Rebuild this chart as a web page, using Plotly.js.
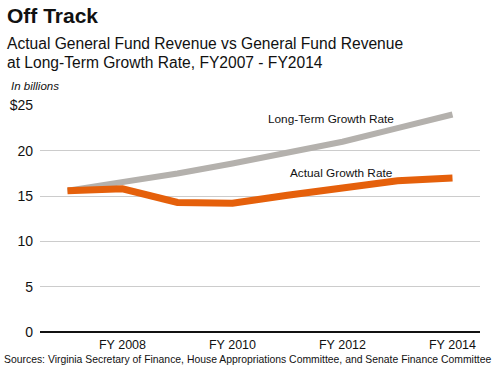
<!DOCTYPE html>
<html><head><meta charset="utf-8">
<script src="https://cdn.plot.ly/plotly-3.0.1.min.js"></script>
<style>html,body{margin:0;padding:0;background:#fff}#chart{width:500px;height:369px}</style>
</head><body><div id="chart"></div>
<script>
const years = [2007, 2008, 2009, 2010, 2011, 2012, 2013, 2014];
const longTerm = [15.6, 16.5, 17.5, 18.6, 19.8, 21.0, 22.5, 24.0];
const actual = [15.6, 15.8, 14.3, 14.2, 15.1, 15.9, 16.7, 17.0];
const xTickVals = [2008, 2010, 2012, 2014];
const xTickText = ['FY 2008', 'FY 2010', 'FY 2012', 'FY 2014'];
const yTickVals = [0, 5, 10, 15, 20, 25];
const yTickText = ['0', '5', '10', '15', '20', '$25'];

const W = 500, H = 369, L = 40, R = 20, T = 105, B = 37;
const pw = W - L - R, ph = H - T - B;
const px = x => (x - L) / pw;
const py = y => (H - B - y) / ph;
const font = 'Liberation Sans, Arial, sans-serif';

const traces = [
  {x: years, y: longTerm, mode: 'lines', line: {color: '#b4b1ad', width: 6}, hoverinfo: 'skip'},
  {x: years, y: actual, mode: 'lines', line: {color: '#e5600b', width: 7}, hoverinfo: 'skip'}
];
const ann = (x, y, text, size) => ({xref: 'paper', yref: 'paper', x: px(x), y: py(y), text, showarrow: false, xanchor: 'left', yanchor: 'middle', font: {family: font, size, color: '#111'}});
const layout = {
  width: W, height: H,
  margin: {l: L, r: R, t: T, b: B},
  paper_bgcolor: '#fff', plot_bgcolor: '#fff',
  showlegend: false,
  xaxis: {range: [2006.5, 2014.5], tickvals: xTickVals, ticktext: xTickText, showgrid: false, zeroline: false, showline: false, ticks: '', ticklabelstandoff: 3, tickfont: {family: font, size: 12.5, color: '#111'}, fixedrange: true},
  yaxis: {range: [0, 25.05], tickvals: yTickVals, ticktext: yTickText, showgrid: true, gridcolor: '#cccccc', gridwidth: 1, zeroline: true, zerolinecolor: '#111', zerolinewidth: 2, ticks: '', ticklabelstandoff: 6, tickfont: {family: font, size: 14, color: '#111'}, fixedrange: true},
  annotations: [
    ann(5, 15, '<b>Off Track</b>', 21),
    ann(5, 43, 'Actual General Fund Revenue vs General Fund Revenue', 15.6),
    ann(5, 62, 'at Long-Term Growth Rate, FY2007 - FY2014', 15.6),
    ann(9, 86, '<i>In billions</i>', 11.5),
    ann(266, 119, 'Long-Term Growth Rate', 11.8),
    ann(288, 173, 'Actual Growth Rate', 11.8),
    ann(2, 359, 'Sources: Virginia Secretary of Finance, House Appropriations Committee, and Senate Finance Committee', 10.4)
  ]
};
Plotly.newPlot('chart', traces, layout, {displayModeBar: false, staticPlot: true});
</script></body></html>
